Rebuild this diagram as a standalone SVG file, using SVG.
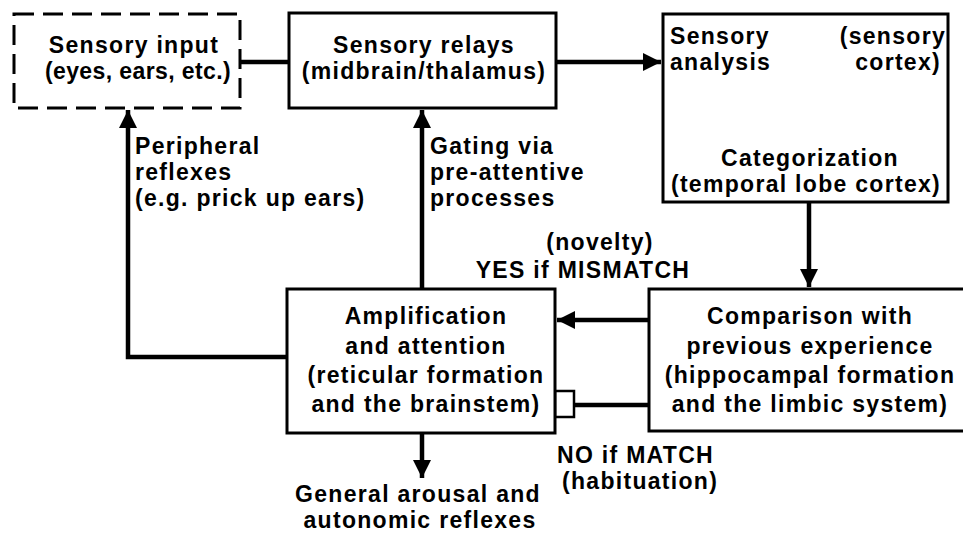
<svg xmlns="http://www.w3.org/2000/svg" width="963" height="535" viewBox="0 0 963 535">
<defs>
<style>
.box{fill:#fff;stroke:#000;stroke-width:3}
.dash{fill:none;stroke:#000;stroke-width:3;stroke-dasharray:20 9}
.ln{fill:none;stroke:#000;stroke-width:4.5}
text{font-family:"Liberation Sans",Arial,sans-serif;font-weight:bold;font-size:23px;letter-spacing:1.3px;fill:#000}
.c{text-anchor:middle}
.r{text-anchor:end}
.tight{letter-spacing:0.4px}
</style>
<marker id="ah" viewBox="0 0 10 10" refX="10" refY="5" markerWidth="4" markerHeight="4" orient="auto" markerUnits="strokeWidth">
<path d="M0,0 L10,5 L0,10 z" fill="#000"/>
</marker>
</defs>
<rect width="963" height="535" fill="#fff"/>
<g id="connectors">
<line class="ln" x1="240" y1="62" x2="289" y2="62"/>
<line class="ln" x1="556" y1="62" x2="661" y2="62" marker-end="url(#ah)"/>
<line class="ln" x1="809" y1="202" x2="809" y2="287" marker-end="url(#ah)"/>
<line class="ln" x1="649" y1="320" x2="557" y2="320" marker-end="url(#ah)"/>
<line class="ln" x1="575" y1="405" x2="649" y2="405"/>
<rect x="555" y="391" width="19" height="26" fill="#fff" stroke="#000" stroke-width="2.5"/>
<line class="ln" x1="422" y1="289" x2="422" y2="110" marker-end="url(#ah)"/>
<polyline class="ln" points="287,357 128,357 128,110" marker-end="url(#ah)"/>
<line class="ln" x1="422" y1="433" x2="422" y2="478" marker-end="url(#ah)"/>
</g>
<g id="sensory-input">
<rect class="dash" x="14" y="14" width="226" height="94"/>
<text class="c" x="134" y="53">Sensory input</text>
<text class="c tight" x="138" y="79">(eyes, ears, etc.)</text>
</g>
<g id="sensory-relays">
<rect class="box" x="289" y="13" width="267" height="95"/>
<text class="c" x="424" y="53">Sensory relays</text>
<text class="c" x="424" y="79">(midbrain/thalamus)</text>
</g>
<g id="sensory-analysis">
<rect class="box" x="663" y="14" width="285" height="188"/>
<text x="670" y="44">Sensory</text>
<text x="670" y="70">analysis</text>
<text class="r" x="946" y="44">(sensory</text>
<text class="r" x="941" y="70">cortex)</text>
<text class="c" x="810" y="166">Categorization</text>
<text class="c" x="806" y="192">(temporal lobe cortex)</text>
</g>
<g id="amplification">
<rect class="box" x="287" y="289" width="268" height="144"/>
<text class="c" x="426" y="324">Amplification</text>
<text class="c" x="426" y="354">and attention</text>
<text class="c" x="426" y="383">(reticular formation</text>
<text class="c" x="426" y="412">and the brainstem)</text>
</g>
<g id="comparison">
<rect class="box" x="649" y="289" width="330" height="142"/>
<text class="c" x="810" y="324">Comparison with</text>
<text class="c" x="810" y="354">previous experience</text>
<text class="c" x="810" y="383">(hippocampal formation</text>
<text class="c" x="810" y="412">and the limbic system)</text>
</g>
<g id="labels">
<text x="135" y="154">Peripheral</text>
<text x="135" y="180">reflexes</text>
<text x="135" y="206">(e.g. prick up ears)</text>
<text x="430" y="154">Gating via</text>
<text x="430" y="180">pre-attentive</text>
<text x="430" y="206">processes</text>
<text class="c" x="600" y="250">(novelty)</text>
<text class="c" x="583" y="278">YES if MISMATCH</text>
<text x="557" y="463">NO if MATCH</text>
<text x="562" y="489">(habituation)</text>
<text class="c" x="418" y="502">General arousal and</text>
<text class="c" x="420" y="528">autonomic reflexes</text>
</g>
</svg>
